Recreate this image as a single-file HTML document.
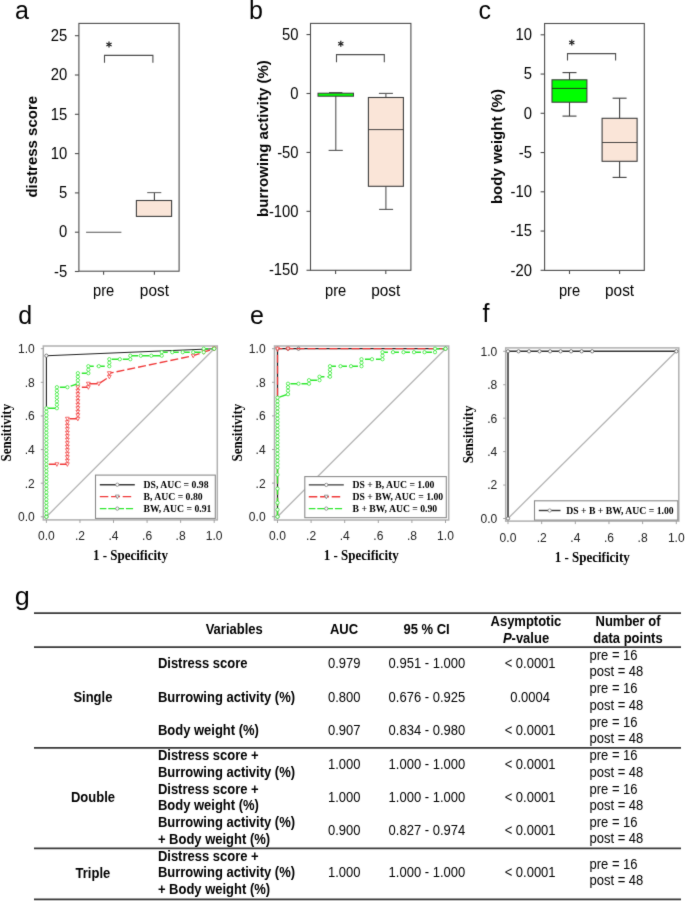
<!DOCTYPE html>
<html><head><meta charset="utf-8"><title>Figure</title>
<style>
html,body{margin:0;padding:0;background:#fff;}
body{width:685px;height:901px;overflow:hidden;}
svg{display:block;}

</style></head>
<body>
<svg width="685" height="901" viewBox="0 0 685 901">
<defs><filter id="bl" x="0" y="0" width="685" height="901" filterUnits="userSpaceOnUse" color-interpolation-filters="sRGB"><feConvolveMatrix order="3" kernelMatrix="0.015 0.07 0.015 0.07 0.66 0.07 0.015 0.07 0.015" edgeMode="duplicate" preserveAlpha="false"/></filter></defs>
<g filter="url(#bl)">
<rect x="0" y="0" width="685" height="901" fill="#fff"/>
<text x="15" y="18.6" font-size="25" text-anchor="start" font-weight="normal" font-family='"Liberation Sans", sans-serif' fill="#000" >a</text>
<rect x="78.9" y="23.4" width="100.2" height="247.8" fill="none" stroke="#4d4d4d" stroke-width="1.1"/>
<line x1="74.9" y1="35.7" x2="78.9" y2="35.7" stroke="#4d4d4d" stroke-width="1.1" />
<text transform="translate(67.3,40.9) scale(1.06,1.17)" x="0" y="0" font-size="14" text-anchor="end" font-weight="normal" font-family='"Liberation Sans", sans-serif' fill="#000" >25</text>
<line x1="74.9" y1="75" x2="78.9" y2="75" stroke="#4d4d4d" stroke-width="1.1" />
<text transform="translate(67.3,80.2) scale(1.06,1.17)" x="0" y="0" font-size="14" text-anchor="end" font-weight="normal" font-family='"Liberation Sans", sans-serif' fill="#000" >20</text>
<line x1="74.9" y1="114.3" x2="78.9" y2="114.3" stroke="#4d4d4d" stroke-width="1.1" />
<text transform="translate(67.3,119.5) scale(1.06,1.17)" x="0" y="0" font-size="14" text-anchor="end" font-weight="normal" font-family='"Liberation Sans", sans-serif' fill="#000" >15</text>
<line x1="74.9" y1="153.6" x2="78.9" y2="153.6" stroke="#4d4d4d" stroke-width="1.1" />
<text transform="translate(67.3,158.8) scale(1.06,1.17)" x="0" y="0" font-size="14" text-anchor="end" font-weight="normal" font-family='"Liberation Sans", sans-serif' fill="#000" >10</text>
<line x1="74.9" y1="192.9" x2="78.9" y2="192.9" stroke="#4d4d4d" stroke-width="1.1" />
<text transform="translate(67.3,198.1) scale(1.06,1.17)" x="0" y="0" font-size="14" text-anchor="end" font-weight="normal" font-family='"Liberation Sans", sans-serif' fill="#000" >5</text>
<line x1="74.9" y1="232.2" x2="78.9" y2="232.2" stroke="#4d4d4d" stroke-width="1.1" />
<text transform="translate(67.3,237.4) scale(1.06,1.17)" x="0" y="0" font-size="14" text-anchor="end" font-weight="normal" font-family='"Liberation Sans", sans-serif' fill="#000" >0</text>
<line x1="74.9" y1="271.5" x2="78.9" y2="271.5" stroke="#4d4d4d" stroke-width="1.1" />
<text transform="translate(67.3,276.7) scale(1.06,1.17)" x="0" y="0" font-size="14" text-anchor="end" font-weight="normal" font-family='"Liberation Sans", sans-serif' fill="#000" >-5</text>
<line x1="103.6" y1="271.2" x2="103.6" y2="274.8" stroke="#4d4d4d" stroke-width="1.1" />
<line x1="154.4" y1="271.2" x2="154.4" y2="274.8" stroke="#4d4d4d" stroke-width="1.1" />
<text transform="translate(103.6,296.4) scale(1.05,1.15)" x="0" y="0" font-size="14" text-anchor="middle" font-weight="normal" font-family='"Liberation Sans", sans-serif' fill="#000" >pre</text>
<text transform="translate(154.4,296.4) scale(1.1,1.15)" x="0" y="0" font-size="14" text-anchor="middle" font-weight="normal" font-family='"Liberation Sans", sans-serif' fill="#000" >post</text>
<text transform="translate(36.7,146.75) rotate(-90)" x="0" y="0" font-size="15" font-weight="bold" text-anchor="middle" font-family='"Liberation Sans", sans-serif' fill="#000">distress score</text>
<text x="249" y="19.2" font-size="25" text-anchor="start" font-weight="normal" font-family='"Liberation Sans", sans-serif' fill="#000" >b</text>
<rect x="310.5" y="23.4" width="100.4" height="246.9" fill="none" stroke="#4d4d4d" stroke-width="1.1"/>
<line x1="306.5" y1="34.57" x2="310.5" y2="34.57" stroke="#4d4d4d" stroke-width="1.1" />
<text transform="translate(298.6,39.77) scale(1.06,1.17)" x="0" y="0" font-size="14" text-anchor="end" font-weight="normal" font-family='"Liberation Sans", sans-serif' fill="#000" >50</text>
<line x1="306.5" y1="93.5" x2="310.5" y2="93.5" stroke="#4d4d4d" stroke-width="1.1" />
<text transform="translate(298.6,98.7) scale(1.06,1.17)" x="0" y="0" font-size="14" text-anchor="end" font-weight="normal" font-family='"Liberation Sans", sans-serif' fill="#000" >0</text>
<line x1="306.5" y1="152.43" x2="310.5" y2="152.43" stroke="#4d4d4d" stroke-width="1.1" />
<text transform="translate(298.6,157.62) scale(1.06,1.17)" x="0" y="0" font-size="14" text-anchor="end" font-weight="normal" font-family='"Liberation Sans", sans-serif' fill="#000" >-50</text>
<line x1="306.5" y1="211.35" x2="310.5" y2="211.35" stroke="#4d4d4d" stroke-width="1.1" />
<text transform="translate(298.6,216.55) scale(1.06,1.17)" x="0" y="0" font-size="14" text-anchor="end" font-weight="normal" font-family='"Liberation Sans", sans-serif' fill="#000" >-100</text>
<line x1="306.5" y1="270.27" x2="310.5" y2="270.27" stroke="#4d4d4d" stroke-width="1.1" />
<text transform="translate(298.6,275.47) scale(1.06,1.17)" x="0" y="0" font-size="14" text-anchor="end" font-weight="normal" font-family='"Liberation Sans", sans-serif' fill="#000" >-150</text>
<line x1="335.6" y1="270.3" x2="335.6" y2="273.9" stroke="#4d4d4d" stroke-width="1.1" />
<line x1="385.8" y1="270.3" x2="385.8" y2="273.9" stroke="#4d4d4d" stroke-width="1.1" />
<text transform="translate(335.6,296.4) scale(1.05,1.15)" x="0" y="0" font-size="14" text-anchor="middle" font-weight="normal" font-family='"Liberation Sans", sans-serif' fill="#000" >pre</text>
<text transform="translate(385.8,296.4) scale(1.1,1.15)" x="0" y="0" font-size="14" text-anchor="middle" font-weight="normal" font-family='"Liberation Sans", sans-serif' fill="#000" >post</text>
<text transform="translate(267.8,138.6) rotate(-90)" x="0" y="0" font-size="15" font-weight="bold" text-anchor="middle" font-family='"Liberation Sans", sans-serif' fill="#000">burrowing activity (%)</text>
<text x="478.5" y="19" font-size="25" text-anchor="start" font-weight="normal" font-family='"Liberation Sans", sans-serif' fill="#000" >c</text>
<rect x="544.6" y="23.5" width="99.7" height="246.9" fill="none" stroke="#4d4d4d" stroke-width="1.1"/>
<line x1="540.6" y1="34.8" x2="544.6" y2="34.8" stroke="#4d4d4d" stroke-width="1.1" />
<text transform="translate(532,40) scale(1.06,1.17)" x="0" y="0" font-size="14" text-anchor="end" font-weight="normal" font-family='"Liberation Sans", sans-serif' fill="#000" >10</text>
<line x1="540.6" y1="74.05" x2="544.6" y2="74.05" stroke="#4d4d4d" stroke-width="1.1" />
<text transform="translate(532,79.25) scale(1.06,1.17)" x="0" y="0" font-size="14" text-anchor="end" font-weight="normal" font-family='"Liberation Sans", sans-serif' fill="#000" >5</text>
<line x1="540.6" y1="113.3" x2="544.6" y2="113.3" stroke="#4d4d4d" stroke-width="1.1" />
<text transform="translate(532,118.5) scale(1.06,1.17)" x="0" y="0" font-size="14" text-anchor="end" font-weight="normal" font-family='"Liberation Sans", sans-serif' fill="#000" >0</text>
<line x1="540.6" y1="152.55" x2="544.6" y2="152.55" stroke="#4d4d4d" stroke-width="1.1" />
<text transform="translate(532,157.75) scale(1.06,1.17)" x="0" y="0" font-size="14" text-anchor="end" font-weight="normal" font-family='"Liberation Sans", sans-serif' fill="#000" >-5</text>
<line x1="540.6" y1="191.8" x2="544.6" y2="191.8" stroke="#4d4d4d" stroke-width="1.1" />
<text transform="translate(532,197) scale(1.06,1.17)" x="0" y="0" font-size="14" text-anchor="end" font-weight="normal" font-family='"Liberation Sans", sans-serif' fill="#000" >-10</text>
<line x1="540.6" y1="231.05" x2="544.6" y2="231.05" stroke="#4d4d4d" stroke-width="1.1" />
<text transform="translate(532,236.25) scale(1.06,1.17)" x="0" y="0" font-size="14" text-anchor="end" font-weight="normal" font-family='"Liberation Sans", sans-serif' fill="#000" >-15</text>
<line x1="540.6" y1="270.3" x2="544.6" y2="270.3" stroke="#4d4d4d" stroke-width="1.1" />
<text transform="translate(532,275.5) scale(1.06,1.17)" x="0" y="0" font-size="14" text-anchor="end" font-weight="normal" font-family='"Liberation Sans", sans-serif' fill="#000" >-20</text>
<line x1="569.5" y1="270.4" x2="569.5" y2="274" stroke="#4d4d4d" stroke-width="1.1" />
<line x1="619.6" y1="270.4" x2="619.6" y2="274" stroke="#4d4d4d" stroke-width="1.1" />
<text transform="translate(569.5,296.4) scale(1.05,1.15)" x="0" y="0" font-size="14" text-anchor="middle" font-weight="normal" font-family='"Liberation Sans", sans-serif' fill="#000" >pre</text>
<text transform="translate(619.6,296.4) scale(1.1,1.15)" x="0" y="0" font-size="14" text-anchor="middle" font-weight="normal" font-family='"Liberation Sans", sans-serif' fill="#000" >post</text>
<text transform="translate(502,146.6) rotate(-90)" x="0" y="0" font-size="15" font-weight="bold" text-anchor="middle" font-family='"Liberation Sans", sans-serif' fill="#000">body weight (%)</text>
<polyline points="104.5,62.7 104.5,55.4 152.9,55.4 152.9,62.7" fill="none" stroke="#4d4d4d" stroke-width="1.1" />
<line x1="109" y1="41.5" x2="109" y2="47.5" stroke="#222" stroke-width="1.25" />
<line x1="106.4" y1="43" x2="111.6" y2="46" stroke="#222" stroke-width="1.25" />
<line x1="106.4" y1="46" x2="111.6" y2="43" stroke="#222" stroke-width="1.25" />
<line x1="86.1" y1="232.2" x2="121.4" y2="232.2" stroke="#555" stroke-width="1.1" />
<line x1="154.4" y1="192.6" x2="154.4" y2="200.5" stroke="#3e3e3e" stroke-width="1.1" />
<line x1="147.2" y1="192.6" x2="161.3" y2="192.6" stroke="#666" stroke-width="1.1" />
<rect x="136.4" y="200.5" width="35.2" height="15.9" fill="#fae5d8" stroke="#3e3e3e" stroke-width="1.1"/>
<polyline points="336.5,62.3 336.5,54.6 384.3,54.6 384.3,62.3" fill="none" stroke="#4d4d4d" stroke-width="1.1" />
<line x1="340.8" y1="40.8" x2="340.8" y2="46.8" stroke="#222" stroke-width="1.25" />
<line x1="338.2" y1="42.3" x2="343.4" y2="45.3" stroke="#222" stroke-width="1.25" />
<line x1="338.2" y1="45.3" x2="343.4" y2="42.3" stroke="#222" stroke-width="1.25" />
<line x1="335.8" y1="96.1" x2="335.8" y2="150.4" stroke="#555" stroke-width="1.1" />
<line x1="328.6" y1="150.4" x2="342.8" y2="150.4" stroke="#555" stroke-width="1.1" />
<line x1="329" y1="92.6" x2="342.4" y2="92.6" stroke="#555" stroke-width="1.1" />
<rect x="318" y="93.2" width="35.5" height="3" fill="#00ff00" stroke="#3e3e3e" stroke-width="1.0"/>
<line x1="385.9" y1="93.4" x2="385.9" y2="97.5" stroke="#555" stroke-width="1.1" />
<line x1="378.9" y1="93.4" x2="392.9" y2="93.4" stroke="#555" stroke-width="1.1" />
<line x1="385.9" y1="186.3" x2="385.9" y2="209.4" stroke="#555" stroke-width="1.1" />
<line x1="379.1" y1="209.4" x2="393.1" y2="209.4" stroke="#555" stroke-width="1.1" />
<rect x="368.4" y="97.5" width="35" height="88.8" fill="#fae5d8" stroke="#3e3e3e" stroke-width="1.1"/>
<line x1="368.4" y1="129.6" x2="403.4" y2="129.6" stroke="#333" stroke-width="0.9" />
<polyline points="567.5,60.6 567.5,53.6 615.6,53.6 615.6,60.6" fill="none" stroke="#4d4d4d" stroke-width="1.1" />
<line x1="571.8" y1="39.5" x2="571.8" y2="45.5" stroke="#222" stroke-width="1.25" />
<line x1="569.2" y1="41" x2="574.4" y2="44" stroke="#222" stroke-width="1.25" />
<line x1="569.2" y1="44" x2="574.4" y2="41" stroke="#222" stroke-width="1.25" />
<line x1="569.5" y1="72.6" x2="569.5" y2="116.1" stroke="#3e3e3e" stroke-width="1.1" />
<line x1="562.5" y1="72.6" x2="576.5" y2="72.6" stroke="#3e3e3e" stroke-width="1.1" />
<line x1="562.5" y1="116.1" x2="576.5" y2="116.1" stroke="#3e3e3e" stroke-width="1.1" />
<rect x="552" y="79.8" width="34.9" height="22.4" fill="#00ff00" stroke="#3e3e3e" stroke-width="1.1"/>
<line x1="552" y1="88.4" x2="586.9" y2="88.4" stroke="#222" stroke-width="0.9" />
<line x1="619.6" y1="98.2" x2="619.6" y2="177.4" stroke="#3e3e3e" stroke-width="1.1" />
<line x1="612.6" y1="98.2" x2="626.6" y2="98.2" stroke="#3e3e3e" stroke-width="1.1" />
<line x1="612.6" y1="177.4" x2="626.6" y2="177.4" stroke="#3e3e3e" stroke-width="1.1" />
<rect x="602.1" y="118.3" width="35" height="43" fill="#fae5d8" stroke="#3e3e3e" stroke-width="1.1"/>
<line x1="602.1" y1="142.5" x2="637.1" y2="142.5" stroke="#333" stroke-width="0.9" />
<text x="18.2" y="323.8" font-size="25" text-anchor="start" font-weight="normal" font-family='"Liberation Sans", sans-serif' fill="#000" >d</text>
<rect x="43.3" y="346" width="174" height="173.9" fill="none" stroke="#b0b0b0" stroke-width="1.5"/>
<line x1="40.8" y1="516.8" x2="43.3" y2="516.8" stroke="#999" stroke-width="0.9" />
<text transform="translate(34.8,521.2) scale(1.05,1.07)" x="0" y="0" font-size="11.5" text-anchor="end" font-weight="normal" font-family='"Liberation Sans", sans-serif' fill="#222" >0.0</text>
<line x1="46.4" y1="519.9" x2="46.4" y2="522.9" stroke="#999" stroke-width="0.9" />
<text transform="translate(46.4,540.3) scale(1.05,1.04)" x="0" y="0" font-size="11.5" text-anchor="middle" font-weight="normal" font-family='"Liberation Sans", sans-serif' fill="#222" >0.0</text>
<line x1="40.8" y1="483.18" x2="43.3" y2="483.18" stroke="#999" stroke-width="0.9" />
<text transform="translate(34.8,487.58) scale(1.05,1.07)" x="0" y="0" font-size="11.5" text-anchor="end" font-weight="normal" font-family='"Liberation Sans", sans-serif' fill="#222" >.2</text>
<line x1="79.96" y1="519.9" x2="79.96" y2="522.9" stroke="#999" stroke-width="0.9" />
<text transform="translate(79.96,540.3) scale(1.05,1.04)" x="0" y="0" font-size="11.5" text-anchor="middle" font-weight="normal" font-family='"Liberation Sans", sans-serif' fill="#222" >.2</text>
<line x1="40.8" y1="449.56" x2="43.3" y2="449.56" stroke="#999" stroke-width="0.9" />
<text transform="translate(34.8,453.96) scale(1.05,1.07)" x="0" y="0" font-size="11.5" text-anchor="end" font-weight="normal" font-family='"Liberation Sans", sans-serif' fill="#222" >.4</text>
<line x1="113.52" y1="519.9" x2="113.52" y2="522.9" stroke="#999" stroke-width="0.9" />
<text transform="translate(113.52,540.3) scale(1.05,1.04)" x="0" y="0" font-size="11.5" text-anchor="middle" font-weight="normal" font-family='"Liberation Sans", sans-serif' fill="#222" >.4</text>
<line x1="40.8" y1="415.94" x2="43.3" y2="415.94" stroke="#999" stroke-width="0.9" />
<text transform="translate(34.8,420.34) scale(1.05,1.07)" x="0" y="0" font-size="11.5" text-anchor="end" font-weight="normal" font-family='"Liberation Sans", sans-serif' fill="#222" >.6</text>
<line x1="147.08" y1="519.9" x2="147.08" y2="522.9" stroke="#999" stroke-width="0.9" />
<text transform="translate(147.08,540.3) scale(1.05,1.04)" x="0" y="0" font-size="11.5" text-anchor="middle" font-weight="normal" font-family='"Liberation Sans", sans-serif' fill="#222" >.6</text>
<line x1="40.8" y1="382.32" x2="43.3" y2="382.32" stroke="#999" stroke-width="0.9" />
<text transform="translate(34.8,386.72) scale(1.05,1.07)" x="0" y="0" font-size="11.5" text-anchor="end" font-weight="normal" font-family='"Liberation Sans", sans-serif' fill="#222" >.8</text>
<line x1="180.64" y1="519.9" x2="180.64" y2="522.9" stroke="#999" stroke-width="0.9" />
<text transform="translate(180.64,540.3) scale(1.05,1.04)" x="0" y="0" font-size="11.5" text-anchor="middle" font-weight="normal" font-family='"Liberation Sans", sans-serif' fill="#222" >.8</text>
<line x1="40.8" y1="348.7" x2="43.3" y2="348.7" stroke="#999" stroke-width="0.9" />
<text transform="translate(34.8,353.1) scale(1.05,1.07)" x="0" y="0" font-size="11.5" text-anchor="end" font-weight="normal" font-family='"Liberation Sans", sans-serif' fill="#222" >1.0</text>
<line x1="214.2" y1="519.9" x2="214.2" y2="522.9" stroke="#999" stroke-width="0.9" />
<text transform="translate(214.2,540.3) scale(1.05,1.04)" x="0" y="0" font-size="11.5" text-anchor="middle" font-weight="normal" font-family='"Liberation Sans", sans-serif' fill="#222" >1.0</text>
<line x1="46.4" y1="516.8" x2="214.2" y2="348.7" stroke="#b4b4b4" stroke-width="1.3" />
<text transform="translate(130.4,560.3) scale(1.0,1.14)" x="0" y="0" font-size="13" text-anchor="middle" font-weight="bold" font-family='"Liberation Serif", serif' fill="#000" >1 - Specificity</text>
<text transform="translate(10.5,432.7) rotate(-90) scale(1,1.12)" x="0" y="0" font-size="13" font-weight="bold" text-anchor="middle" font-family='"Liberation Serif", serif' fill="#000">Sensitivity</text>
<text x="250" y="323.6" font-size="25" text-anchor="start" font-weight="normal" font-family='"Liberation Sans", sans-serif' fill="#000" >e</text>
<rect x="274.5" y="346" width="174.2" height="174" fill="none" stroke="#b0b0b0" stroke-width="1.5"/>
<line x1="272" y1="516.7" x2="274.5" y2="516.7" stroke="#999" stroke-width="0.9" />
<text transform="translate(265.6,521.1) scale(1.05,1.07)" x="0" y="0" font-size="11.5" text-anchor="end" font-weight="normal" font-family='"Liberation Sans", sans-serif' fill="#222" >0.0</text>
<line x1="277.5" y1="520" x2="277.5" y2="523" stroke="#999" stroke-width="0.9" />
<text transform="translate(277.5,540.3) scale(1.05,1.04)" x="0" y="0" font-size="11.5" text-anchor="middle" font-weight="normal" font-family='"Liberation Sans", sans-serif' fill="#222" >0.0</text>
<line x1="272" y1="483.1" x2="274.5" y2="483.1" stroke="#999" stroke-width="0.9" />
<text transform="translate(265.6,487.5) scale(1.05,1.07)" x="0" y="0" font-size="11.5" text-anchor="end" font-weight="normal" font-family='"Liberation Sans", sans-serif' fill="#222" >.2</text>
<line x1="311.1" y1="520" x2="311.1" y2="523" stroke="#999" stroke-width="0.9" />
<text transform="translate(311.1,540.3) scale(1.05,1.04)" x="0" y="0" font-size="11.5" text-anchor="middle" font-weight="normal" font-family='"Liberation Sans", sans-serif' fill="#222" >.2</text>
<line x1="272" y1="449.5" x2="274.5" y2="449.5" stroke="#999" stroke-width="0.9" />
<text transform="translate(265.6,453.9) scale(1.05,1.07)" x="0" y="0" font-size="11.5" text-anchor="end" font-weight="normal" font-family='"Liberation Sans", sans-serif' fill="#222" >.4</text>
<line x1="344.7" y1="520" x2="344.7" y2="523" stroke="#999" stroke-width="0.9" />
<text transform="translate(344.7,540.3) scale(1.05,1.04)" x="0" y="0" font-size="11.5" text-anchor="middle" font-weight="normal" font-family='"Liberation Sans", sans-serif' fill="#222" >.4</text>
<line x1="272" y1="415.9" x2="274.5" y2="415.9" stroke="#999" stroke-width="0.9" />
<text transform="translate(265.6,420.3) scale(1.05,1.07)" x="0" y="0" font-size="11.5" text-anchor="end" font-weight="normal" font-family='"Liberation Sans", sans-serif' fill="#222" >.6</text>
<line x1="378.3" y1="520" x2="378.3" y2="523" stroke="#999" stroke-width="0.9" />
<text transform="translate(378.3,540.3) scale(1.05,1.04)" x="0" y="0" font-size="11.5" text-anchor="middle" font-weight="normal" font-family='"Liberation Sans", sans-serif' fill="#222" >.6</text>
<line x1="272" y1="382.3" x2="274.5" y2="382.3" stroke="#999" stroke-width="0.9" />
<text transform="translate(265.6,386.7) scale(1.05,1.07)" x="0" y="0" font-size="11.5" text-anchor="end" font-weight="normal" font-family='"Liberation Sans", sans-serif' fill="#222" >.8</text>
<line x1="411.9" y1="520" x2="411.9" y2="523" stroke="#999" stroke-width="0.9" />
<text transform="translate(411.9,540.3) scale(1.05,1.04)" x="0" y="0" font-size="11.5" text-anchor="middle" font-weight="normal" font-family='"Liberation Sans", sans-serif' fill="#222" >.8</text>
<line x1="272" y1="348.7" x2="274.5" y2="348.7" stroke="#999" stroke-width="0.9" />
<text transform="translate(265.6,353.1) scale(1.05,1.07)" x="0" y="0" font-size="11.5" text-anchor="end" font-weight="normal" font-family='"Liberation Sans", sans-serif' fill="#222" >1.0</text>
<line x1="445.5" y1="520" x2="445.5" y2="523" stroke="#999" stroke-width="0.9" />
<text transform="translate(445.5,540.3) scale(1.05,1.04)" x="0" y="0" font-size="11.5" text-anchor="middle" font-weight="normal" font-family='"Liberation Sans", sans-serif' fill="#222" >1.0</text>
<line x1="277.5" y1="516.7" x2="445.5" y2="348.7" stroke="#b4b4b4" stroke-width="1.3" />
<text transform="translate(361.3,560.3) scale(1.0,1.14)" x="0" y="0" font-size="13" text-anchor="middle" font-weight="bold" font-family='"Liberation Serif", serif' fill="#000" >1 - Specificity</text>
<text transform="translate(241.9,432.6) rotate(-90) scale(1,1.12)" x="0" y="0" font-size="13" font-weight="bold" text-anchor="middle" font-family='"Liberation Serif", serif' fill="#000">Sensitivity</text>
<text x="482.5" y="321.6" font-size="25" text-anchor="start" font-weight="normal" font-family='"Liberation Sans", sans-serif' fill="#000" >f</text>
<rect x="505.7" y="347.9" width="173.1" height="173.2" fill="none" stroke="#b0b0b0" stroke-width="1.5"/>
<line x1="503.2" y1="518.5" x2="505.7" y2="518.5" stroke="#999" stroke-width="0.9" />
<text transform="translate(497.3,522.9) scale(1.05,1.07)" x="0" y="0" font-size="11.5" text-anchor="end" font-weight="normal" font-family='"Liberation Sans", sans-serif' fill="#222" >0.0</text>
<line x1="508" y1="521.1" x2="508" y2="524.1" stroke="#999" stroke-width="0.9" />
<text transform="translate(508,541.9) scale(1.05,1.04)" x="0" y="0" font-size="11.5" text-anchor="middle" font-weight="normal" font-family='"Liberation Sans", sans-serif' fill="#222" >0.0</text>
<line x1="503.2" y1="485.06" x2="505.7" y2="485.06" stroke="#999" stroke-width="0.9" />
<text transform="translate(497.3,489.46) scale(1.05,1.07)" x="0" y="0" font-size="11.5" text-anchor="end" font-weight="normal" font-family='"Liberation Sans", sans-serif' fill="#222" >.2</text>
<line x1="541.66" y1="521.1" x2="541.66" y2="524.1" stroke="#999" stroke-width="0.9" />
<text transform="translate(541.66,541.9) scale(1.05,1.04)" x="0" y="0" font-size="11.5" text-anchor="middle" font-weight="normal" font-family='"Liberation Sans", sans-serif' fill="#222" >.2</text>
<line x1="503.2" y1="451.62" x2="505.7" y2="451.62" stroke="#999" stroke-width="0.9" />
<text transform="translate(497.3,456.02) scale(1.05,1.07)" x="0" y="0" font-size="11.5" text-anchor="end" font-weight="normal" font-family='"Liberation Sans", sans-serif' fill="#222" >.4</text>
<line x1="575.32" y1="521.1" x2="575.32" y2="524.1" stroke="#999" stroke-width="0.9" />
<text transform="translate(575.32,541.9) scale(1.05,1.04)" x="0" y="0" font-size="11.5" text-anchor="middle" font-weight="normal" font-family='"Liberation Sans", sans-serif' fill="#222" >.4</text>
<line x1="503.2" y1="418.18" x2="505.7" y2="418.18" stroke="#999" stroke-width="0.9" />
<text transform="translate(497.3,422.58) scale(1.05,1.07)" x="0" y="0" font-size="11.5" text-anchor="end" font-weight="normal" font-family='"Liberation Sans", sans-serif' fill="#222" >.6</text>
<line x1="608.98" y1="521.1" x2="608.98" y2="524.1" stroke="#999" stroke-width="0.9" />
<text transform="translate(608.98,541.9) scale(1.05,1.04)" x="0" y="0" font-size="11.5" text-anchor="middle" font-weight="normal" font-family='"Liberation Sans", sans-serif' fill="#222" >.6</text>
<line x1="503.2" y1="384.74" x2="505.7" y2="384.74" stroke="#999" stroke-width="0.9" />
<text transform="translate(497.3,389.14) scale(1.05,1.07)" x="0" y="0" font-size="11.5" text-anchor="end" font-weight="normal" font-family='"Liberation Sans", sans-serif' fill="#222" >.8</text>
<line x1="642.64" y1="521.1" x2="642.64" y2="524.1" stroke="#999" stroke-width="0.9" />
<text transform="translate(642.64,541.9) scale(1.05,1.04)" x="0" y="0" font-size="11.5" text-anchor="middle" font-weight="normal" font-family='"Liberation Sans", sans-serif' fill="#222" >.8</text>
<line x1="503.2" y1="351.3" x2="505.7" y2="351.3" stroke="#999" stroke-width="0.9" />
<text transform="translate(497.3,355.7) scale(1.05,1.07)" x="0" y="0" font-size="11.5" text-anchor="end" font-weight="normal" font-family='"Liberation Sans", sans-serif' fill="#222" >1.0</text>
<line x1="676.3" y1="521.1" x2="676.3" y2="524.1" stroke="#999" stroke-width="0.9" />
<text transform="translate(676.3,541.9) scale(1.05,1.04)" x="0" y="0" font-size="11.5" text-anchor="middle" font-weight="normal" font-family='"Liberation Sans", sans-serif' fill="#222" >1.0</text>
<line x1="508" y1="518.5" x2="676.3" y2="351.3" stroke="#b4b4b4" stroke-width="1.3" />
<text transform="translate(592.2,561.8) scale(1.0,1.14)" x="0" y="0" font-size="13" text-anchor="middle" font-weight="bold" font-family='"Liberation Serif", serif' fill="#000" >1 - Specificity</text>
<text transform="translate(472.6,434.5) rotate(-90) scale(1,1.12)" x="0" y="0" font-size="13" font-weight="bold" text-anchor="middle" font-family='"Liberation Serif", serif' fill="#000">Sensitivity</text>
<polyline points="46.4,516.8 46.4,355.7 214.2,348.7" fill="none" stroke="#222" stroke-width="1.1"  stroke-linejoin="round"/>
<circle cx="46.4" cy="516.8" r="1.65" fill="#fff" stroke="#555" stroke-width="0.75"/>
<circle cx="46.4" cy="355.7" r="1.65" fill="#fff" stroke="#555" stroke-width="0.75"/>
<circle cx="214.2" cy="348.7" r="1.65" fill="#fff" stroke="#555" stroke-width="0.75"/>
<polyline points="46.4,516.8 46.4,513.3 46.4,509.8 46.4,506.29 46.4,502.79 46.4,499.29 46.4,495.79 46.4,492.29 46.4,488.78 46.4,485.28 46.4,481.78 46.4,478.28 46.4,474.77 46.4,471.27 46.4,467.77 46.4,464.27 56.89,464.27 67.38,464.27 67.38,460.77 67.38,457.26 67.38,453.76 67.38,450.26 67.38,446.76 67.38,443.26 67.38,439.75 67.38,436.25 67.38,432.75 67.38,429.25 67.38,425.75 67.38,422.24 67.38,418.74 77.86,418.74 77.86,415.24 77.86,411.74 77.86,408.24 77.86,404.73 77.86,401.23 77.86,397.73 77.86,394.23 77.86,390.72 77.86,387.22 88.35,387.22 88.35,383.72 98.84,383.72 109.33,376.72 109.33,373.21 193.23,355.7 203.71,352.2 214.2,348.7" fill="none" stroke="#f03a3a" stroke-width="1.4" stroke-dasharray="8 3" stroke-linejoin="round"/>
<polygon points="54.99,462.75 58.79,462.75 56.89,466.36" fill="#fff" stroke="#f03a3a" stroke-width="0.75"/>
<polygon points="65.47,462.75 69.28,462.75 67.38,466.36" fill="#fff" stroke="#f03a3a" stroke-width="0.75"/>
<polygon points="65.47,459.25 69.28,459.25 67.38,462.86" fill="#fff" stroke="#f03a3a" stroke-width="0.75"/>
<polygon points="65.47,455.74 69.28,455.74 67.38,459.35" fill="#fff" stroke="#f03a3a" stroke-width="0.75"/>
<polygon points="65.47,452.24 69.28,452.24 67.38,455.85" fill="#fff" stroke="#f03a3a" stroke-width="0.75"/>
<polygon points="65.47,448.74 69.28,448.74 67.38,452.35" fill="#fff" stroke="#f03a3a" stroke-width="0.75"/>
<polygon points="65.47,445.24 69.28,445.24 67.38,448.85" fill="#fff" stroke="#f03a3a" stroke-width="0.75"/>
<polygon points="65.47,441.74 69.28,441.74 67.38,445.35" fill="#fff" stroke="#f03a3a" stroke-width="0.75"/>
<polygon points="65.47,438.23 69.28,438.23 67.38,441.84" fill="#fff" stroke="#f03a3a" stroke-width="0.75"/>
<polygon points="65.47,434.73 69.28,434.73 67.38,438.34" fill="#fff" stroke="#f03a3a" stroke-width="0.75"/>
<polygon points="65.47,431.23 69.28,431.23 67.38,434.84" fill="#fff" stroke="#f03a3a" stroke-width="0.75"/>
<polygon points="65.47,427.73 69.28,427.73 67.38,431.34" fill="#fff" stroke="#f03a3a" stroke-width="0.75"/>
<polygon points="65.47,424.23 69.28,424.23 67.38,427.84" fill="#fff" stroke="#f03a3a" stroke-width="0.75"/>
<polygon points="65.47,420.72 69.28,420.72 67.38,424.33" fill="#fff" stroke="#f03a3a" stroke-width="0.75"/>
<polygon points="65.47,417.22 69.28,417.22 67.38,420.83" fill="#fff" stroke="#f03a3a" stroke-width="0.75"/>
<polygon points="75.96,417.22 79.76,417.22 77.86,420.83" fill="#fff" stroke="#f03a3a" stroke-width="0.75"/>
<polygon points="75.96,413.72 79.76,413.72 77.86,417.33" fill="#fff" stroke="#f03a3a" stroke-width="0.75"/>
<polygon points="75.96,410.22 79.76,410.22 77.86,413.83" fill="#fff" stroke="#f03a3a" stroke-width="0.75"/>
<polygon points="75.96,406.72 79.76,406.72 77.86,410.33" fill="#fff" stroke="#f03a3a" stroke-width="0.75"/>
<polygon points="75.96,403.21 79.76,403.21 77.86,406.82" fill="#fff" stroke="#f03a3a" stroke-width="0.75"/>
<polygon points="75.96,399.71 79.76,399.71 77.86,403.32" fill="#fff" stroke="#f03a3a" stroke-width="0.75"/>
<polygon points="75.96,396.21 79.76,396.21 77.86,399.82" fill="#fff" stroke="#f03a3a" stroke-width="0.75"/>
<polygon points="75.96,392.71 79.76,392.71 77.86,396.32" fill="#fff" stroke="#f03a3a" stroke-width="0.75"/>
<polygon points="75.96,389.2 79.76,389.2 77.86,392.81" fill="#fff" stroke="#f03a3a" stroke-width="0.75"/>
<polygon points="75.96,385.7 79.76,385.7 77.86,389.31" fill="#fff" stroke="#f03a3a" stroke-width="0.75"/>
<polygon points="86.45,385.7 90.25,385.7 88.35,389.31" fill="#fff" stroke="#f03a3a" stroke-width="0.75"/>
<polygon points="86.45,382.2 90.25,382.2 88.35,385.81" fill="#fff" stroke="#f03a3a" stroke-width="0.75"/>
<polygon points="96.94,382.2 100.74,382.2 98.84,385.81" fill="#fff" stroke="#f03a3a" stroke-width="0.75"/>
<polygon points="107.42,375.2 111.23,375.2 109.33,378.81" fill="#fff" stroke="#f03a3a" stroke-width="0.75"/>
<polygon points="107.42,371.69 111.23,371.69 109.33,375.3" fill="#fff" stroke="#f03a3a" stroke-width="0.75"/>
<polygon points="191.33,354.18 195.13,354.18 193.23,357.79" fill="#fff" stroke="#f03a3a" stroke-width="0.75"/>
<polygon points="201.81,350.68 205.61,350.68 203.71,354.29" fill="#fff" stroke="#f03a3a" stroke-width="0.75"/>
<polygon points="212.3,347.18 216.1,347.18 214.2,350.79" fill="#fff" stroke="#f03a3a" stroke-width="0.75"/>
<polyline points="46.4,516.8 46.4,513.3 46.4,509.8 46.4,506.29 46.4,502.79 46.4,499.29 46.4,495.79 46.4,492.29 46.4,488.78 46.4,485.28 46.4,481.78 46.4,478.28 46.4,474.77 46.4,471.27 46.4,467.77 46.4,464.27 46.4,460.77 46.4,457.26 46.4,453.76 46.4,450.26 46.4,446.76 46.4,443.26 46.4,439.75 46.4,436.25 46.4,432.75 46.4,429.25 46.4,425.75 46.4,422.24 46.4,418.74 46.4,415.24 46.4,411.74 46.4,408.24 56.89,408.24 56.89,404.73 56.89,401.23 56.89,397.73 56.89,394.23 56.89,390.72 56.89,387.22 67.38,387.22 77.86,383.72 77.86,380.22 77.86,376.72 77.86,373.21 88.35,373.21 88.35,369.71 88.35,366.21 98.84,366.21 109.33,366.21 109.33,362.71 109.33,359.21 119.81,359.21 130.3,359.21 130.3,355.7 140.79,355.7 151.28,355.7 161.76,355.7 161.76,352.2 172.25,352.2 182.74,352.2 193.23,352.2 203.71,352.2 203.71,348.7 214.2,348.7" fill="none" stroke="#2ee82e" stroke-width="1.4" stroke-dasharray="8 3" stroke-linejoin="round"/>
<circle cx="46.4" cy="516.8" r="1.65" fill="#fff" stroke="#2ee82e" stroke-width="0.75"/>
<circle cx="46.4" cy="513.3" r="1.65" fill="#fff" stroke="#2ee82e" stroke-width="0.75"/>
<circle cx="46.4" cy="509.8" r="1.65" fill="#fff" stroke="#2ee82e" stroke-width="0.75"/>
<circle cx="46.4" cy="506.29" r="1.65" fill="#fff" stroke="#2ee82e" stroke-width="0.75"/>
<circle cx="46.4" cy="502.79" r="1.65" fill="#fff" stroke="#2ee82e" stroke-width="0.75"/>
<circle cx="46.4" cy="499.29" r="1.65" fill="#fff" stroke="#2ee82e" stroke-width="0.75"/>
<circle cx="46.4" cy="495.79" r="1.65" fill="#fff" stroke="#2ee82e" stroke-width="0.75"/>
<circle cx="46.4" cy="492.29" r="1.65" fill="#fff" stroke="#2ee82e" stroke-width="0.75"/>
<circle cx="46.4" cy="488.78" r="1.65" fill="#fff" stroke="#2ee82e" stroke-width="0.75"/>
<circle cx="46.4" cy="485.28" r="1.65" fill="#fff" stroke="#2ee82e" stroke-width="0.75"/>
<circle cx="46.4" cy="481.78" r="1.65" fill="#fff" stroke="#2ee82e" stroke-width="0.75"/>
<circle cx="46.4" cy="478.28" r="1.65" fill="#fff" stroke="#2ee82e" stroke-width="0.75"/>
<circle cx="46.4" cy="474.77" r="1.65" fill="#fff" stroke="#2ee82e" stroke-width="0.75"/>
<circle cx="46.4" cy="471.27" r="1.65" fill="#fff" stroke="#2ee82e" stroke-width="0.75"/>
<circle cx="46.4" cy="467.77" r="1.65" fill="#fff" stroke="#2ee82e" stroke-width="0.75"/>
<circle cx="46.4" cy="464.27" r="1.65" fill="#fff" stroke="#2ee82e" stroke-width="0.75"/>
<circle cx="46.4" cy="460.77" r="1.65" fill="#fff" stroke="#2ee82e" stroke-width="0.75"/>
<circle cx="46.4" cy="457.26" r="1.65" fill="#fff" stroke="#2ee82e" stroke-width="0.75"/>
<circle cx="46.4" cy="453.76" r="1.65" fill="#fff" stroke="#2ee82e" stroke-width="0.75"/>
<circle cx="46.4" cy="450.26" r="1.65" fill="#fff" stroke="#2ee82e" stroke-width="0.75"/>
<circle cx="46.4" cy="446.76" r="1.65" fill="#fff" stroke="#2ee82e" stroke-width="0.75"/>
<circle cx="46.4" cy="443.26" r="1.65" fill="#fff" stroke="#2ee82e" stroke-width="0.75"/>
<circle cx="46.4" cy="439.75" r="1.65" fill="#fff" stroke="#2ee82e" stroke-width="0.75"/>
<circle cx="46.4" cy="436.25" r="1.65" fill="#fff" stroke="#2ee82e" stroke-width="0.75"/>
<circle cx="46.4" cy="432.75" r="1.65" fill="#fff" stroke="#2ee82e" stroke-width="0.75"/>
<circle cx="46.4" cy="429.25" r="1.65" fill="#fff" stroke="#2ee82e" stroke-width="0.75"/>
<circle cx="46.4" cy="425.75" r="1.65" fill="#fff" stroke="#2ee82e" stroke-width="0.75"/>
<circle cx="46.4" cy="422.24" r="1.65" fill="#fff" stroke="#2ee82e" stroke-width="0.75"/>
<circle cx="46.4" cy="418.74" r="1.65" fill="#fff" stroke="#2ee82e" stroke-width="0.75"/>
<circle cx="46.4" cy="415.24" r="1.65" fill="#fff" stroke="#2ee82e" stroke-width="0.75"/>
<circle cx="46.4" cy="411.74" r="1.65" fill="#fff" stroke="#2ee82e" stroke-width="0.75"/>
<circle cx="46.4" cy="408.24" r="1.65" fill="#fff" stroke="#2ee82e" stroke-width="0.75"/>
<circle cx="56.89" cy="408.24" r="1.65" fill="#fff" stroke="#2ee82e" stroke-width="0.75"/>
<circle cx="56.89" cy="404.73" r="1.65" fill="#fff" stroke="#2ee82e" stroke-width="0.75"/>
<circle cx="56.89" cy="401.23" r="1.65" fill="#fff" stroke="#2ee82e" stroke-width="0.75"/>
<circle cx="56.89" cy="397.73" r="1.65" fill="#fff" stroke="#2ee82e" stroke-width="0.75"/>
<circle cx="56.89" cy="394.23" r="1.65" fill="#fff" stroke="#2ee82e" stroke-width="0.75"/>
<circle cx="56.89" cy="390.72" r="1.65" fill="#fff" stroke="#2ee82e" stroke-width="0.75"/>
<circle cx="56.89" cy="387.22" r="1.65" fill="#fff" stroke="#2ee82e" stroke-width="0.75"/>
<circle cx="67.38" cy="387.22" r="1.65" fill="#fff" stroke="#2ee82e" stroke-width="0.75"/>
<circle cx="77.86" cy="383.72" r="1.65" fill="#fff" stroke="#2ee82e" stroke-width="0.75"/>
<circle cx="77.86" cy="380.22" r="1.65" fill="#fff" stroke="#2ee82e" stroke-width="0.75"/>
<circle cx="77.86" cy="376.72" r="1.65" fill="#fff" stroke="#2ee82e" stroke-width="0.75"/>
<circle cx="77.86" cy="373.21" r="1.65" fill="#fff" stroke="#2ee82e" stroke-width="0.75"/>
<circle cx="88.35" cy="373.21" r="1.65" fill="#fff" stroke="#2ee82e" stroke-width="0.75"/>
<circle cx="88.35" cy="369.71" r="1.65" fill="#fff" stroke="#2ee82e" stroke-width="0.75"/>
<circle cx="88.35" cy="366.21" r="1.65" fill="#fff" stroke="#2ee82e" stroke-width="0.75"/>
<circle cx="98.84" cy="366.21" r="1.65" fill="#fff" stroke="#2ee82e" stroke-width="0.75"/>
<circle cx="109.33" cy="366.21" r="1.65" fill="#fff" stroke="#2ee82e" stroke-width="0.75"/>
<circle cx="109.33" cy="362.71" r="1.65" fill="#fff" stroke="#2ee82e" stroke-width="0.75"/>
<circle cx="109.33" cy="359.21" r="1.65" fill="#fff" stroke="#2ee82e" stroke-width="0.75"/>
<circle cx="119.81" cy="359.21" r="1.65" fill="#fff" stroke="#2ee82e" stroke-width="0.75"/>
<circle cx="130.3" cy="359.21" r="1.65" fill="#fff" stroke="#2ee82e" stroke-width="0.75"/>
<circle cx="130.3" cy="355.7" r="1.65" fill="#fff" stroke="#2ee82e" stroke-width="0.75"/>
<circle cx="140.79" cy="355.7" r="1.65" fill="#fff" stroke="#2ee82e" stroke-width="0.75"/>
<circle cx="151.28" cy="355.7" r="1.65" fill="#fff" stroke="#2ee82e" stroke-width="0.75"/>
<circle cx="161.76" cy="355.7" r="1.65" fill="#fff" stroke="#2ee82e" stroke-width="0.75"/>
<circle cx="161.76" cy="352.2" r="1.65" fill="#fff" stroke="#2ee82e" stroke-width="0.75"/>
<circle cx="172.25" cy="352.2" r="1.65" fill="#fff" stroke="#2ee82e" stroke-width="0.75"/>
<circle cx="182.74" cy="352.2" r="1.65" fill="#fff" stroke="#2ee82e" stroke-width="0.75"/>
<circle cx="193.23" cy="352.2" r="1.65" fill="#fff" stroke="#2ee82e" stroke-width="0.75"/>
<circle cx="203.71" cy="352.2" r="1.65" fill="#fff" stroke="#2ee82e" stroke-width="0.75"/>
<circle cx="203.71" cy="348.7" r="1.65" fill="#fff" stroke="#2ee82e" stroke-width="0.75"/>
<circle cx="214.2" cy="348.7" r="1.65" fill="#fff" stroke="#2ee82e" stroke-width="0.75"/>
<polyline points="277.5,516.7 277.5,348.7 445.5,348.7" fill="none" stroke="#222" stroke-width="1.3"  stroke-linejoin="round"/>
<circle cx="277.5" cy="516.7" r="1.65" fill="#fff" stroke="#555" stroke-width="0.75"/>
<circle cx="277.5" cy="348.7" r="1.65" fill="#fff" stroke="#555" stroke-width="0.75"/>
<circle cx="288" cy="348.7" r="1.65" fill="#fff" stroke="#555" stroke-width="0.75"/>
<circle cx="298.5" cy="348.7" r="1.65" fill="#fff" stroke="#555" stroke-width="0.75"/>
<circle cx="445.5" cy="348.7" r="1.65" fill="#fff" stroke="#555" stroke-width="0.75"/>
<polyline points="277.5,516.7 277.5,348.7 445.5,348.7" fill="none" stroke="#f03a3a" stroke-width="1.3" stroke-dasharray="8 3" stroke-linejoin="round"/>
<polygon points="275.6,347.18 279.4,347.18 277.5,350.79" fill="#fff" stroke="#f03a3a" stroke-width="0.75"/>
<polygon points="286.1,347.18 289.9,347.18 288,350.79" fill="#fff" stroke="#f03a3a" stroke-width="0.75"/>
<polyline points="277.5,516.7 277.5,509.7 277.5,502.7 277.5,488.7 277.5,474.7 277.5,467.7 277.5,464.2 277.5,460.7 277.5,457.2 277.5,453.7 277.5,450.2 277.5,446.7 277.5,443.2 277.5,439.7 277.5,436.2 277.5,432.7 277.5,429.2 277.5,425.7 277.5,422.2 277.5,418.7 277.5,415.2 277.5,411.7 277.5,408.2 277.5,404.7 277.5,401.2 277.5,397.7 288,394.2 288,390.7 288,387.2 288,383.7 298.5,383.7 309,383.7 309,380.2 319.5,380.2 319.5,376.7 330,376.7 330,373.2 330,369.7 330,366.2 340.5,366.2 351,366.2 361.5,366.2 361.5,362.7 361.5,359.2 372,359.2 382.5,359.2 382.5,355.7 382.5,352.2 393,352.2 403.5,352.2 414,352.2 424.5,352.2 435,352.2 435,348.7 445.5,348.7" fill="none" stroke="#2ee82e" stroke-width="1.4" stroke-dasharray="8 3" stroke-linejoin="round"/>
<circle cx="277.5" cy="516.7" r="1.65" fill="#fff" stroke="#2ee82e" stroke-width="0.75"/>
<circle cx="277.5" cy="509.7" r="1.65" fill="#fff" stroke="#2ee82e" stroke-width="0.75"/>
<circle cx="277.5" cy="502.7" r="1.65" fill="#fff" stroke="#2ee82e" stroke-width="0.75"/>
<circle cx="277.5" cy="488.7" r="1.65" fill="#fff" stroke="#2ee82e" stroke-width="0.75"/>
<circle cx="277.5" cy="474.7" r="1.65" fill="#fff" stroke="#2ee82e" stroke-width="0.75"/>
<circle cx="277.5" cy="467.7" r="1.65" fill="#fff" stroke="#2ee82e" stroke-width="0.75"/>
<circle cx="277.5" cy="464.2" r="1.65" fill="#fff" stroke="#2ee82e" stroke-width="0.75"/>
<circle cx="277.5" cy="460.7" r="1.65" fill="#fff" stroke="#2ee82e" stroke-width="0.75"/>
<circle cx="277.5" cy="457.2" r="1.65" fill="#fff" stroke="#2ee82e" stroke-width="0.75"/>
<circle cx="277.5" cy="453.7" r="1.65" fill="#fff" stroke="#2ee82e" stroke-width="0.75"/>
<circle cx="277.5" cy="450.2" r="1.65" fill="#fff" stroke="#2ee82e" stroke-width="0.75"/>
<circle cx="277.5" cy="446.7" r="1.65" fill="#fff" stroke="#2ee82e" stroke-width="0.75"/>
<circle cx="277.5" cy="443.2" r="1.65" fill="#fff" stroke="#2ee82e" stroke-width="0.75"/>
<circle cx="277.5" cy="439.7" r="1.65" fill="#fff" stroke="#2ee82e" stroke-width="0.75"/>
<circle cx="277.5" cy="436.2" r="1.65" fill="#fff" stroke="#2ee82e" stroke-width="0.75"/>
<circle cx="277.5" cy="432.7" r="1.65" fill="#fff" stroke="#2ee82e" stroke-width="0.75"/>
<circle cx="277.5" cy="429.2" r="1.65" fill="#fff" stroke="#2ee82e" stroke-width="0.75"/>
<circle cx="277.5" cy="425.7" r="1.65" fill="#fff" stroke="#2ee82e" stroke-width="0.75"/>
<circle cx="277.5" cy="422.2" r="1.65" fill="#fff" stroke="#2ee82e" stroke-width="0.75"/>
<circle cx="277.5" cy="418.7" r="1.65" fill="#fff" stroke="#2ee82e" stroke-width="0.75"/>
<circle cx="277.5" cy="415.2" r="1.65" fill="#fff" stroke="#2ee82e" stroke-width="0.75"/>
<circle cx="277.5" cy="411.7" r="1.65" fill="#fff" stroke="#2ee82e" stroke-width="0.75"/>
<circle cx="277.5" cy="408.2" r="1.65" fill="#fff" stroke="#2ee82e" stroke-width="0.75"/>
<circle cx="277.5" cy="404.7" r="1.65" fill="#fff" stroke="#2ee82e" stroke-width="0.75"/>
<circle cx="277.5" cy="401.2" r="1.65" fill="#fff" stroke="#2ee82e" stroke-width="0.75"/>
<circle cx="277.5" cy="397.7" r="1.65" fill="#fff" stroke="#2ee82e" stroke-width="0.75"/>
<circle cx="288" cy="394.2" r="1.65" fill="#fff" stroke="#2ee82e" stroke-width="0.75"/>
<circle cx="288" cy="390.7" r="1.65" fill="#fff" stroke="#2ee82e" stroke-width="0.75"/>
<circle cx="288" cy="387.2" r="1.65" fill="#fff" stroke="#2ee82e" stroke-width="0.75"/>
<circle cx="288" cy="383.7" r="1.65" fill="#fff" stroke="#2ee82e" stroke-width="0.75"/>
<circle cx="298.5" cy="383.7" r="1.65" fill="#fff" stroke="#2ee82e" stroke-width="0.75"/>
<circle cx="309" cy="383.7" r="1.65" fill="#fff" stroke="#2ee82e" stroke-width="0.75"/>
<circle cx="309" cy="380.2" r="1.65" fill="#fff" stroke="#2ee82e" stroke-width="0.75"/>
<circle cx="319.5" cy="380.2" r="1.65" fill="#fff" stroke="#2ee82e" stroke-width="0.75"/>
<circle cx="319.5" cy="376.7" r="1.65" fill="#fff" stroke="#2ee82e" stroke-width="0.75"/>
<circle cx="330" cy="376.7" r="1.65" fill="#fff" stroke="#2ee82e" stroke-width="0.75"/>
<circle cx="330" cy="373.2" r="1.65" fill="#fff" stroke="#2ee82e" stroke-width="0.75"/>
<circle cx="330" cy="369.7" r="1.65" fill="#fff" stroke="#2ee82e" stroke-width="0.75"/>
<circle cx="330" cy="366.2" r="1.65" fill="#fff" stroke="#2ee82e" stroke-width="0.75"/>
<circle cx="340.5" cy="366.2" r="1.65" fill="#fff" stroke="#2ee82e" stroke-width="0.75"/>
<circle cx="351" cy="366.2" r="1.65" fill="#fff" stroke="#2ee82e" stroke-width="0.75"/>
<circle cx="361.5" cy="366.2" r="1.65" fill="#fff" stroke="#2ee82e" stroke-width="0.75"/>
<circle cx="361.5" cy="362.7" r="1.65" fill="#fff" stroke="#2ee82e" stroke-width="0.75"/>
<circle cx="361.5" cy="359.2" r="1.65" fill="#fff" stroke="#2ee82e" stroke-width="0.75"/>
<circle cx="372" cy="359.2" r="1.65" fill="#fff" stroke="#2ee82e" stroke-width="0.75"/>
<circle cx="382.5" cy="359.2" r="1.65" fill="#fff" stroke="#2ee82e" stroke-width="0.75"/>
<circle cx="382.5" cy="355.7" r="1.65" fill="#fff" stroke="#2ee82e" stroke-width="0.75"/>
<circle cx="382.5" cy="352.2" r="1.65" fill="#fff" stroke="#2ee82e" stroke-width="0.75"/>
<circle cx="393" cy="352.2" r="1.65" fill="#fff" stroke="#2ee82e" stroke-width="0.75"/>
<circle cx="403.5" cy="352.2" r="1.65" fill="#fff" stroke="#2ee82e" stroke-width="0.75"/>
<circle cx="414" cy="352.2" r="1.65" fill="#fff" stroke="#2ee82e" stroke-width="0.75"/>
<circle cx="424.5" cy="352.2" r="1.65" fill="#fff" stroke="#2ee82e" stroke-width="0.75"/>
<circle cx="435" cy="352.2" r="1.65" fill="#fff" stroke="#2ee82e" stroke-width="0.75"/>
<circle cx="435" cy="348.7" r="1.65" fill="#fff" stroke="#2ee82e" stroke-width="0.75"/>
<circle cx="445.5" cy="348.7" r="1.65" fill="#fff" stroke="#2ee82e" stroke-width="0.75"/>
<polyline points="508,518.5 508,351.3 676.3,351.3" fill="none" stroke="#333" stroke-width="1.5"  stroke-linejoin="round"/>
<circle cx="508" cy="518.5" r="1.65" fill="#fff" stroke="#555" stroke-width="0.75"/>
<circle cx="508" cy="351.3" r="1.65" fill="#fff" stroke="#555" stroke-width="0.75"/>
<circle cx="518.52" cy="351.3" r="1.65" fill="#fff" stroke="#555" stroke-width="0.75"/>
<circle cx="529.04" cy="351.3" r="1.65" fill="#fff" stroke="#555" stroke-width="0.75"/>
<circle cx="539.56" cy="351.3" r="1.65" fill="#fff" stroke="#555" stroke-width="0.75"/>
<circle cx="550.08" cy="351.3" r="1.65" fill="#fff" stroke="#555" stroke-width="0.75"/>
<circle cx="560.59" cy="351.3" r="1.65" fill="#fff" stroke="#555" stroke-width="0.75"/>
<circle cx="571.11" cy="351.3" r="1.65" fill="#fff" stroke="#555" stroke-width="0.75"/>
<circle cx="581.63" cy="351.3" r="1.65" fill="#fff" stroke="#555" stroke-width="0.75"/>
<circle cx="592.15" cy="351.3" r="1.65" fill="#fff" stroke="#555" stroke-width="0.75"/>
<circle cx="676.3" cy="351.3" r="1.65" fill="#fff" stroke="#555" stroke-width="0.75"/>
<rect x="95.5" y="475.1" width="119.8" height="43.3" fill="#fff" stroke="#8a8a8a" stroke-width="1.1"/>
<line x1="99.8" y1="484.7" x2="134.8" y2="484.7" stroke="#3a3a3a" stroke-width="1.4" />
<circle cx="117.3" cy="484.7" r="1.65" fill="#fff" stroke="#777" stroke-width="0.75"/>
<text x="143.5" y="488.1" font-size="9.7" text-anchor="start" font-weight="bold" font-family='"Liberation Serif", serif' fill="#000" >DS, AUC = 0.98</text>
<line x1="99.8" y1="496.6" x2="131.2" y2="496.6" stroke="#f03a3a" stroke-width="1.4" stroke-dasharray="8.5 2.8 8.8 2.8 8.5 30"/>
<polygon points="115.4,495.08 119.2,495.08 117.3,498.69" fill="#fff" stroke="#777" stroke-width="0.75"/>
<text x="143.5" y="500" font-size="9.7" text-anchor="start" font-weight="bold" font-family='"Liberation Serif", serif' fill="#000" >B, AUC = 0.80</text>
<line x1="99.8" y1="508.6" x2="133.1" y2="508.6" stroke="#2ee82e" stroke-width="1.4" stroke-dasharray="6.6 1.9 15.7 1.9 7.2 30"/>
<circle cx="117.3" cy="508.6" r="1.65" fill="#fff" stroke="#777" stroke-width="0.75"/>
<text x="143.5" y="512" font-size="9.7" text-anchor="start" font-weight="bold" font-family='"Liberation Serif", serif' fill="#000" >BW, AUC = 0.91</text>
<rect x="304.8" y="476.6" width="141.5" height="41.1" fill="#fff" stroke="#8a8a8a" stroke-width="1.1"/>
<line x1="308.8" y1="484.9" x2="343.8" y2="484.9" stroke="#3a3a3a" stroke-width="1.4" />
<circle cx="326.3" cy="484.9" r="1.65" fill="#fff" stroke="#777" stroke-width="0.75"/>
<text x="352.5" y="488.3" font-size="9.7" text-anchor="start" font-weight="bold" font-family='"Liberation Serif", serif' fill="#000" >DS + B, AUC = 1.00</text>
<line x1="308.8" y1="496.7" x2="340.2" y2="496.7" stroke="#f03a3a" stroke-width="1.4" stroke-dasharray="8.5 2.8 8.8 2.8 8.5 30"/>
<polygon points="324.4,495.18 328.2,495.18 326.3,498.79" fill="#fff" stroke="#777" stroke-width="0.75"/>
<text x="352.5" y="500.1" font-size="9.7" text-anchor="start" font-weight="bold" font-family='"Liberation Serif", serif' fill="#000" >DS + BW, AUC = 1.00</text>
<line x1="308.8" y1="508.6" x2="342.1" y2="508.6" stroke="#2ee82e" stroke-width="1.4" stroke-dasharray="6.6 1.9 15.7 1.9 7.2 30"/>
<circle cx="326.3" cy="508.6" r="1.65" fill="#fff" stroke="#777" stroke-width="0.75"/>
<text x="352.5" y="512" font-size="9.7" text-anchor="start" font-weight="bold" font-family='"Liberation Serif", serif' fill="#000" >B + BW, AUC = 0.90</text>
<rect x="534.5" y="500.8" width="143.3" height="19.3" fill="#fff" stroke="#8a8a8a" stroke-width="1.1"/>
<line x1="538.8" y1="510.5" x2="560.5" y2="510.5" stroke="#3a3a3a" stroke-width="1.4" />
<circle cx="549.65" cy="510.5" r="1.65" fill="#fff" stroke="#777" stroke-width="0.75"/>
<text x="566.2" y="513.9" font-size="9.7" text-anchor="start" font-weight="bold" font-family='"Liberation Serif", serif' fill="#000" >DS + B + BW, AUC = 1.00</text>
<text transform="translate(14.8,605.3) scale(1.04,1.0)" x="0" y="0" font-size="26" text-anchor="start" font-weight="normal" font-family='"Liberation Sans", sans-serif' fill="#000" >g</text>
<line x1="34" y1="613.2" x2="681" y2="613.2" stroke="#383838" stroke-width="1.75" />
<line x1="34" y1="647" x2="681" y2="647" stroke="#383838" stroke-width="1.75" />
<line x1="34" y1="747.8" x2="681" y2="747.8" stroke="#383838" stroke-width="1.75" />
<line x1="34" y1="848.4" x2="681" y2="848.4" stroke="#383838" stroke-width="1.75" />
<line x1="34" y1="899.4" x2="681" y2="899.4" stroke="#383838" stroke-width="1.75" />
<text transform="translate(234.2,634.1) scale(1.0,1.07)" x="0" y="0" font-size="13" text-anchor="middle" font-weight="bold" font-family='"Liberation Sans", sans-serif' fill="#000" >Variables</text>
<text transform="translate(344,634.4) scale(1.0,1.07)" x="0" y="0" font-size="13" text-anchor="middle" font-weight="bold" font-family='"Liberation Sans", sans-serif' fill="#000" >AUC</text>
<text transform="translate(426.6,634.4) scale(1.0,1.07)" x="0" y="0" font-size="13" text-anchor="middle" font-weight="bold" font-family='"Liberation Sans", sans-serif' fill="#000" >95 % CI</text>
<text transform="translate(525.9,625.9) scale(1.0,1.07)" x="0" y="0" font-size="13" text-anchor="middle" font-weight="bold" font-family='"Liberation Sans", sans-serif' fill="#000" >Asymptotic</text>
<text transform="translate(526,642.6) scale(1,1.07)" x="0" y="0" font-size="13" text-anchor="middle" font-weight="bold" font-family='"Liberation Sans", sans-serif' fill="#000"><tspan font-style="italic">P</tspan>-value</text>
<text transform="translate(628,625.9) scale(1.0,1.07)" x="0" y="0" font-size="13" text-anchor="middle" font-weight="bold" font-family='"Liberation Sans", sans-serif' fill="#000" >Number of</text>
<text transform="translate(628,642.6) scale(1.0,1.07)" x="0" y="0" font-size="13" text-anchor="middle" font-weight="bold" font-family='"Liberation Sans", sans-serif' fill="#000" >data points</text>
<text transform="translate(157.9,668.2) scale(1.0,1.07)" x="0" y="0" font-size="13" text-anchor="start" font-weight="bold" font-family='"Liberation Sans", sans-serif' fill="#000" >Distress score</text>
<text transform="translate(344.2,668.2) scale(1.0,1.07)" x="0" y="0" font-size="13" text-anchor="middle" font-weight="normal" font-family='"Liberation Sans", sans-serif' fill="#000" >0.979</text>
<text transform="translate(426.9,668.2) scale(1.0,1.07)" x="0" y="0" font-size="13" text-anchor="middle" font-weight="normal" font-family='"Liberation Sans", sans-serif' fill="#000" >0.951 - 1.000</text>
<text transform="translate(530.1,668.2) scale(1.0,1.07)" x="0" y="0" font-size="13" text-anchor="middle" font-weight="normal" font-family='"Liberation Sans", sans-serif' fill="#000" >&lt; 0.0001</text>
<text transform="translate(589.5,659.9) scale(1.0,1.07)" x="0" y="0" font-size="13" text-anchor="start" font-weight="normal" font-family='"Liberation Sans", sans-serif' fill="#000" >pre = 16</text>
<text transform="translate(589.5,676.2) scale(1.0,1.07)" x="0" y="0" font-size="13" text-anchor="start" font-weight="normal" font-family='"Liberation Sans", sans-serif' fill="#000" >post = 48</text>
<text transform="translate(157.9,701.7) scale(1.0,1.07)" x="0" y="0" font-size="13" text-anchor="start" font-weight="bold" font-family='"Liberation Sans", sans-serif' fill="#000" >Burrowing activity (%)</text>
<text transform="translate(344.2,701.7) scale(1.0,1.07)" x="0" y="0" font-size="13" text-anchor="middle" font-weight="normal" font-family='"Liberation Sans", sans-serif' fill="#000" >0.800</text>
<text transform="translate(426.9,701.7) scale(1.0,1.07)" x="0" y="0" font-size="13" text-anchor="middle" font-weight="normal" font-family='"Liberation Sans", sans-serif' fill="#000" >0.676 - 0.925</text>
<text transform="translate(530.1,701.7) scale(1.0,1.07)" x="0" y="0" font-size="13" text-anchor="middle" font-weight="normal" font-family='"Liberation Sans", sans-serif' fill="#000" >0.0004</text>
<text transform="translate(589.5,693.4) scale(1.0,1.07)" x="0" y="0" font-size="13" text-anchor="start" font-weight="normal" font-family='"Liberation Sans", sans-serif' fill="#000" >pre = 16</text>
<text transform="translate(589.5,709.7) scale(1.0,1.07)" x="0" y="0" font-size="13" text-anchor="start" font-weight="normal" font-family='"Liberation Sans", sans-serif' fill="#000" >post = 48</text>
<text transform="translate(157.9,735.2) scale(1.0,1.07)" x="0" y="0" font-size="13" text-anchor="start" font-weight="bold" font-family='"Liberation Sans", sans-serif' fill="#000" >Body weight (%)</text>
<text transform="translate(344.2,735.2) scale(1.0,1.07)" x="0" y="0" font-size="13" text-anchor="middle" font-weight="normal" font-family='"Liberation Sans", sans-serif' fill="#000" >0.907</text>
<text transform="translate(426.9,735.2) scale(1.0,1.07)" x="0" y="0" font-size="13" text-anchor="middle" font-weight="normal" font-family='"Liberation Sans", sans-serif' fill="#000" >0.834 - 0.980</text>
<text transform="translate(530.1,735.2) scale(1.0,1.07)" x="0" y="0" font-size="13" text-anchor="middle" font-weight="normal" font-family='"Liberation Sans", sans-serif' fill="#000" >&lt; 0.0001</text>
<text transform="translate(589.5,726.9) scale(1.0,1.07)" x="0" y="0" font-size="13" text-anchor="start" font-weight="normal" font-family='"Liberation Sans", sans-serif' fill="#000" >pre = 16</text>
<text transform="translate(589.5,743.2) scale(1.0,1.07)" x="0" y="0" font-size="13" text-anchor="start" font-weight="normal" font-family='"Liberation Sans", sans-serif' fill="#000" >post = 48</text>
<text transform="translate(157.9,760.4) scale(1.0,1.07)" x="0" y="0" font-size="13" text-anchor="start" font-weight="bold" font-family='"Liberation Sans", sans-serif' fill="#000" >Distress score +</text>
<text transform="translate(157.9,776.7) scale(1.0,1.07)" x="0" y="0" font-size="13" text-anchor="start" font-weight="bold" font-family='"Liberation Sans", sans-serif' fill="#000" >Burrowing activity (%)</text>
<text transform="translate(344.2,768.5) scale(1.0,1.07)" x="0" y="0" font-size="13" text-anchor="middle" font-weight="normal" font-family='"Liberation Sans", sans-serif' fill="#000" >1.000</text>
<text transform="translate(426.9,768.5) scale(1.0,1.07)" x="0" y="0" font-size="13" text-anchor="middle" font-weight="normal" font-family='"Liberation Sans", sans-serif' fill="#000" >1.000 - 1.000</text>
<text transform="translate(530.1,768.5) scale(1.0,1.07)" x="0" y="0" font-size="13" text-anchor="middle" font-weight="normal" font-family='"Liberation Sans", sans-serif' fill="#000" >&lt; 0.0001</text>
<text transform="translate(589.5,760.2) scale(1.0,1.07)" x="0" y="0" font-size="13" text-anchor="start" font-weight="normal" font-family='"Liberation Sans", sans-serif' fill="#000" >pre = 16</text>
<text transform="translate(589.5,776.5) scale(1.0,1.07)" x="0" y="0" font-size="13" text-anchor="start" font-weight="normal" font-family='"Liberation Sans", sans-serif' fill="#000" >post = 48</text>
<text transform="translate(157.9,793.8) scale(1.0,1.07)" x="0" y="0" font-size="13" text-anchor="start" font-weight="bold" font-family='"Liberation Sans", sans-serif' fill="#000" >Distress score +</text>
<text transform="translate(157.9,810.1) scale(1.0,1.07)" x="0" y="0" font-size="13" text-anchor="start" font-weight="bold" font-family='"Liberation Sans", sans-serif' fill="#000" >Body weight (%)</text>
<text transform="translate(344.2,801.9) scale(1.0,1.07)" x="0" y="0" font-size="13" text-anchor="middle" font-weight="normal" font-family='"Liberation Sans", sans-serif' fill="#000" >1.000</text>
<text transform="translate(426.9,801.9) scale(1.0,1.07)" x="0" y="0" font-size="13" text-anchor="middle" font-weight="normal" font-family='"Liberation Sans", sans-serif' fill="#000" >1.000 - 1.000</text>
<text transform="translate(530.1,801.9) scale(1.0,1.07)" x="0" y="0" font-size="13" text-anchor="middle" font-weight="normal" font-family='"Liberation Sans", sans-serif' fill="#000" >&lt; 0.0001</text>
<text transform="translate(589.5,793.6) scale(1.0,1.07)" x="0" y="0" font-size="13" text-anchor="start" font-weight="normal" font-family='"Liberation Sans", sans-serif' fill="#000" >pre = 16</text>
<text transform="translate(589.5,809.9) scale(1.0,1.07)" x="0" y="0" font-size="13" text-anchor="start" font-weight="normal" font-family='"Liberation Sans", sans-serif' fill="#000" >post = 48</text>
<text transform="translate(157.9,827.2) scale(1.0,1.07)" x="0" y="0" font-size="13" text-anchor="start" font-weight="bold" font-family='"Liberation Sans", sans-serif' fill="#000" >Burrowing activity (%)</text>
<text transform="translate(157.9,843.5) scale(1.0,1.07)" x="0" y="0" font-size="13" text-anchor="start" font-weight="bold" font-family='"Liberation Sans", sans-serif' fill="#000" >+ Body weight (%)</text>
<text transform="translate(344.2,835.3) scale(1.0,1.07)" x="0" y="0" font-size="13" text-anchor="middle" font-weight="normal" font-family='"Liberation Sans", sans-serif' fill="#000" >0.900</text>
<text transform="translate(426.9,835.3) scale(1.0,1.07)" x="0" y="0" font-size="13" text-anchor="middle" font-weight="normal" font-family='"Liberation Sans", sans-serif' fill="#000" >0.827 - 0.974</text>
<text transform="translate(530.1,835.3) scale(1.0,1.07)" x="0" y="0" font-size="13" text-anchor="middle" font-weight="normal" font-family='"Liberation Sans", sans-serif' fill="#000" >&lt; 0.0001</text>
<text transform="translate(589.5,827) scale(1.0,1.07)" x="0" y="0" font-size="13" text-anchor="start" font-weight="normal" font-family='"Liberation Sans", sans-serif' fill="#000" >pre = 16</text>
<text transform="translate(589.5,843.3) scale(1.0,1.07)" x="0" y="0" font-size="13" text-anchor="start" font-weight="normal" font-family='"Liberation Sans", sans-serif' fill="#000" >post = 48</text>
<text transform="translate(157.9,860.8) scale(1.0,1.07)" x="0" y="0" font-size="13" text-anchor="start" font-weight="bold" font-family='"Liberation Sans", sans-serif' fill="#000" >Distress score +</text>
<text transform="translate(157.9,877.4) scale(1.0,1.07)" x="0" y="0" font-size="13" text-anchor="start" font-weight="bold" font-family='"Liberation Sans", sans-serif' fill="#000" >Burrowing activity (%)</text>
<text transform="translate(157.9,893.5) scale(1.0,1.07)" x="0" y="0" font-size="13" text-anchor="start" font-weight="bold" font-family='"Liberation Sans", sans-serif' fill="#000" >+ Body weight (%)</text>
<text transform="translate(344.2,877.4) scale(1.0,1.07)" x="0" y="0" font-size="13" text-anchor="middle" font-weight="normal" font-family='"Liberation Sans", sans-serif' fill="#000" >1.000</text>
<text transform="translate(426.9,877.4) scale(1.0,1.07)" x="0" y="0" font-size="13" text-anchor="middle" font-weight="normal" font-family='"Liberation Sans", sans-serif' fill="#000" >1.000 - 1.000</text>
<text transform="translate(530.1,877.4) scale(1.0,1.07)" x="0" y="0" font-size="13" text-anchor="middle" font-weight="normal" font-family='"Liberation Sans", sans-serif' fill="#000" >&lt; 0.0001</text>
<text transform="translate(589.5,869.1) scale(1.0,1.07)" x="0" y="0" font-size="13" text-anchor="start" font-weight="normal" font-family='"Liberation Sans", sans-serif' fill="#000" >pre = 16</text>
<text transform="translate(589.5,885.4) scale(1.0,1.07)" x="0" y="0" font-size="13" text-anchor="start" font-weight="normal" font-family='"Liberation Sans", sans-serif' fill="#000" >post = 48</text>
<text transform="translate(92.9,701.5) scale(1.0,1.07)" x="0" y="0" font-size="13" text-anchor="middle" font-weight="bold" font-family='"Liberation Sans", sans-serif' fill="#000" >Single</text>
<text transform="translate(93,802.4) scale(1.0,1.07)" x="0" y="0" font-size="13" text-anchor="middle" font-weight="bold" font-family='"Liberation Sans", sans-serif' fill="#000" >Double</text>
<text transform="translate(92.9,877.6) scale(1.0,1.07)" x="0" y="0" font-size="13" text-anchor="middle" font-weight="bold" font-family='"Liberation Sans", sans-serif' fill="#000" >Triple</text>
</g>
</svg>
</body></html>
